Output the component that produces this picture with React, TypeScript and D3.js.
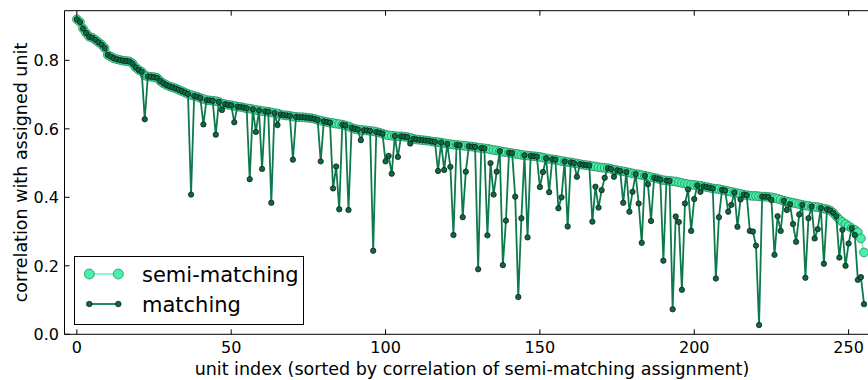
import React from "react";
import * as d3 from "d3";

// semi-matching correlation per unit (sorted), index 0..255
const semiMatching: number[] = [
  0.920, 0.912, 0.893, 0.880, 0.869, 0.866, 0.860, 0.853, 0.846, 0.836,
  0.816, 0.811, 0.806, 0.803, 0.801, 0.799, 0.798, 0.797, 0.791, 0.780,
  0.772, 0.767, 0.756, 0.753, 0.752, 0.751, 0.749, 0.740, 0.733, 0.728,
  0.724, 0.721, 0.718, 0.714, 0.710, 0.706, 0.702, 0.699, 0.696, 0.694,
  0.690, 0.687, 0.684, 0.683, 0.682, 0.681, 0.679, 0.674, 0.672, 0.670,
  0.669, 0.667, 0.665, 0.664, 0.662, 0.660, 0.659, 0.657, 0.655, 0.654,
  0.652, 0.651, 0.650, 0.648, 0.646, 0.645, 0.642, 0.640, 0.639, 0.638,
  0.636, 0.635, 0.634, 0.634, 0.633, 0.632, 0.631, 0.629, 0.626, 0.624,
  0.622, 0.620, 0.618, 0.617, 0.615, 0.614, 0.612, 0.610, 0.607, 0.603,
  0.600, 0.598, 0.597, 0.596, 0.595, 0.594, 0.593, 0.591, 0.589, 0.586,
  0.583, 0.581, 0.580, 0.579, 0.578, 0.578, 0.577, 0.576, 0.574, 0.571,
  0.569, 0.568, 0.567, 0.566, 0.565, 0.563, 0.562, 0.561, 0.560, 0.558,
  0.556, 0.555, 0.554, 0.553, 0.552, 0.551, 0.550, 0.549, 0.548, 0.547,
  0.545, 0.544, 0.543, 0.542, 0.540, 0.538, 0.537, 0.535, 0.533, 0.532,
  0.530, 0.529, 0.527, 0.526, 0.524, 0.523, 0.522, 0.521, 0.520, 0.519,
  0.518, 0.516, 0.514, 0.512, 0.511, 0.510, 0.508, 0.506, 0.505, 0.503,
  0.502, 0.500, 0.499, 0.497, 0.495, 0.494, 0.493, 0.491, 0.490, 0.488,
  0.487, 0.486, 0.485, 0.483, 0.481, 0.479, 0.477, 0.476, 0.474, 0.472,
  0.470, 0.468, 0.467, 0.465, 0.463, 0.461, 0.459, 0.457, 0.455, 0.452,
  0.450, 0.449, 0.448, 0.447, 0.446, 0.444, 0.442, 0.440, 0.438, 0.437,
  0.436, 0.435, 0.434, 0.432, 0.430, 0.428, 0.426, 0.425, 0.424, 0.422,
  0.420, 0.418, 0.416, 0.414, 0.412, 0.410, 0.408, 0.406, 0.405, 0.404,
  0.404, 0.403, 0.402, 0.402, 0.401, 0.400, 0.398, 0.396, 0.393, 0.390,
  0.388, 0.386, 0.384, 0.382, 0.380, 0.378, 0.376, 0.375, 0.373, 0.372,
  0.371, 0.369, 0.367, 0.365, 0.362, 0.355, 0.345, 0.335, 0.328, 0.322,
  0.316, 0.310, 0.305, 0.298, 0.280, 0.239,
];

// matching correlation per unit, same order
const matching: number[] = [
  0.920, 0.912, 0.893, 0.880, 0.869, 0.866, 0.860, 0.853, 0.846, 0.836,
  0.816, 0.811, 0.806, 0.803, 0.801, 0.799, 0.798, 0.797, 0.791, 0.780,
  0.772, 0.767, 0.628, 0.753, 0.752, 0.751, 0.749, 0.740, 0.733, 0.728,
  0.724, 0.721, 0.718, 0.714, 0.710, 0.706, 0.702, 0.408, 0.696, 0.694,
  0.690, 0.613, 0.684, 0.683, 0.682, 0.583, 0.679, 0.655, 0.672, 0.670,
  0.669, 0.619, 0.665, 0.664, 0.662, 0.660, 0.453, 0.657, 0.591, 0.654,
  0.483, 0.651, 0.650, 0.384, 0.646, 0.611, 0.642, 0.640, 0.639, 0.638,
  0.510, 0.635, 0.634, 0.634, 0.633, 0.632, 0.631, 0.629, 0.626, 0.505,
  0.622, 0.620, 0.618, 0.426, 0.490, 0.365, 0.612, 0.610, 0.363, 0.603,
  0.600, 0.598, 0.567, 0.596, 0.595, 0.594, 0.244, 0.591, 0.589, 0.586,
  0.505, 0.521, 0.469, 0.579, 0.518, 0.578, 0.577, 0.576, 0.557, 0.571,
  0.569, 0.568, 0.567, 0.566, 0.565, 0.563, 0.562, 0.477, 0.560, 0.480,
  0.556, 0.489, 0.290, 0.553, 0.552, 0.342, 0.475, 0.549, 0.548, 0.547,
  0.190, 0.544, 0.543, 0.289, 0.500, 0.408, 0.475, 0.535, 0.202, 0.332,
  0.530, 0.529, 0.402, 0.109, 0.339, 0.523, 0.283, 0.521, 0.520, 0.519,
  0.430, 0.474, 0.514, 0.415, 0.511, 0.510, 0.368, 0.400, 0.505, 0.315,
  0.502, 0.500, 0.460, 0.497, 0.495, 0.494, 0.493, 0.329, 0.431, 0.370,
  0.421, 0.457, 0.485, 0.483, 0.460, 0.479, 0.477, 0.384, 0.474, 0.358,
  0.416, 0.468, 0.382, 0.267, 0.463, 0.438, 0.331, 0.457, 0.455, 0.452,
  0.215, 0.449, 0.448, 0.073, 0.344, 0.328, 0.130, 0.382, 0.423, 0.302,
  0.395, 0.435, 0.416, 0.432, 0.430, 0.428, 0.426, 0.163, 0.342, 0.422,
  0.420, 0.358, 0.378, 0.414, 0.314, 0.394, 0.408, 0.406, 0.302, 0.300,
  0.259, 0.027, 0.402, 0.402, 0.401, 0.392, 0.232, 0.345, 0.302, 0.390,
  0.363, 0.380, 0.322, 0.270, 0.350, 0.378, 0.165, 0.339, 0.373, 0.280,
  0.307, 0.369, 0.206, 0.365, 0.362, 0.355, 0.345, 0.224, 0.305, 0.200,
  0.265, 0.310, 0.290, 0.159, 0.167, 0.088,
];

const xTicks: number[] = [0, 50, 100, 150, 200, 250];
const yTicks: number[] = [0.0, 0.2, 0.4, 0.6, 0.8];
const seriesNames: string[] = ["semi-matching", "matching"];
const xLabel = "unit index (sorted by correlation of semi-matching assignment)";
const yLabel = "correlation with assigned unit";

const W = 868;
const H = 380;
const FONT = "'DejaVu Sans', sans-serif";

const SEMI_FILL = "#45f2a8";
const SEMI_LINE = "#6af3bf";
const SEMI_EDGE = "#1d7a52";
const MATCH_FILL = "#0a6a42";
const MATCH_LINE = "#0c7a4b";
const MATCH_EDGE = "#111";

export default function App() {
  const left = 64.5;
  const top = 10.7;
  const bottom = 334.3;
  const pxPerUnit = 3.087;
  const x = d3.scaleLinear().domain([-4, 260]).range([left, left + 264 * pxPerUnit]);
  const y = d3.scaleLinear().domain([0, 0.945]).range([bottom, top]);
  const right = x(260);

  const line = d3
    .line<number>()
    .x((_, i) => x(i))
    .y((d) => y(d));

  const tickLen = 5;

  return (
    <svg
      width={W}
      height={H}
      style={{ position: "absolute", left: 0, top: 0, background: "#fff" }}
      fontFamily={FONT}
    >
      <defs>
        <clipPath id="plotclip">
          <rect x={left} y={top} width={right - left} height={bottom - top} />
        </clipPath>
      </defs>
      <rect x={0} y={0} width={W} height={H} fill="#fff" />

      <g clipPath="url(#plotclip)">
        <path d={line(semiMatching) || ""} fill="none" stroke={SEMI_LINE} strokeWidth={1.5} />
        {semiMatching.map((v, i) => (
          <circle key={"s" + i} cx={x(i)} cy={y(v)} r={4.4} fill={SEMI_FILL} stroke={SEMI_EDGE} strokeWidth={0.7} />
        ))}
        <path d={line(matching) || ""} fill="none" stroke={MATCH_LINE} strokeWidth={1.8} />
        {matching.map((v, i) => (
          <circle key={"m" + i} cx={x(i)} cy={y(v)} r={2.7} fill={MATCH_FILL} stroke={MATCH_EDGE} strokeWidth={0.7} />
        ))}
      </g>

      {/* frame */}
      <line x1={left} x2={right} y1={top} y2={top} stroke="#000" strokeWidth={1} />
      <line x1={left} x2={right} y1={bottom} y2={bottom} stroke="#000" strokeWidth={1} />
      <line x1={left} x2={left} y1={top} y2={bottom} stroke="#000" strokeWidth={1} />

      {/* x ticks */}
      {xTicks.map((t) => (
        <g key={"xt" + t}>
          <line x1={x(t)} x2={x(t)} y1={bottom} y2={bottom - tickLen} stroke="#000" />
          <line x1={x(t)} x2={x(t)} y1={top} y2={top + tickLen} stroke="#000" />
          <text x={x(t)} y={352.5} textAnchor="middle" fontSize={16} fill="#000">
            {t}
          </text>
        </g>
      ))}

      {/* y ticks */}
      {yTicks.map((t) => (
        <g key={"yt" + t}>
          <line x1={left} x2={left + tickLen} y1={y(t)} y2={y(t)} stroke="#000" />
          <text x={59} y={y(t)} dy="0.36em" textAnchor="end" fontSize={16} fill="#000">
            {t.toFixed(1)}
          </text>
        </g>
      ))}

      <text x={(left + right) / 2} y={374.5} textAnchor="middle" fontSize={17.5} fill="#000">
        {xLabel}
      </text>
      <text
        transform={`translate(27, ${(top + bottom) / 2}) rotate(-90)`}
        textAnchor="middle"
        fontSize={17.5}
        fill="#000"
      >
        {yLabel}
      </text>

      {/* legend */}
      <g>
        <rect x={74.5} y={256.5} width={229} height={68} fill="#fff" stroke="#000" strokeWidth={1} />
        <line x1={89.3} x2={118.3} y1={274} y2={274} stroke={SEMI_LINE} strokeWidth={1.5} />
        <circle cx={89.3} cy={274} r={5} fill={SEMI_FILL} stroke={SEMI_EDGE} strokeWidth={0.7} />
        <circle cx={118.3} cy={274} r={5} fill={SEMI_FILL} stroke={SEMI_EDGE} strokeWidth={0.7} />
        <text x={142} y={274} dy="0.36em" fontSize={21} fill="#000">
          {seriesNames[0]}
        </text>
        <line x1={89.3} x2={118.3} y1={304} y2={304} stroke={MATCH_LINE} strokeWidth={1.8} />
        <circle cx={89.3} cy={304} r={2.8} fill={MATCH_FILL} stroke={MATCH_EDGE} strokeWidth={0.7} />
        <circle cx={118.3} cy={304} r={2.8} fill={MATCH_FILL} stroke={MATCH_EDGE} strokeWidth={0.7} />
        <text x={142} y={304} dy="0.36em" fontSize={21} fill="#000">
          {seriesNames[1]}
        </text>
      </g>
    </svg>
  );
}
